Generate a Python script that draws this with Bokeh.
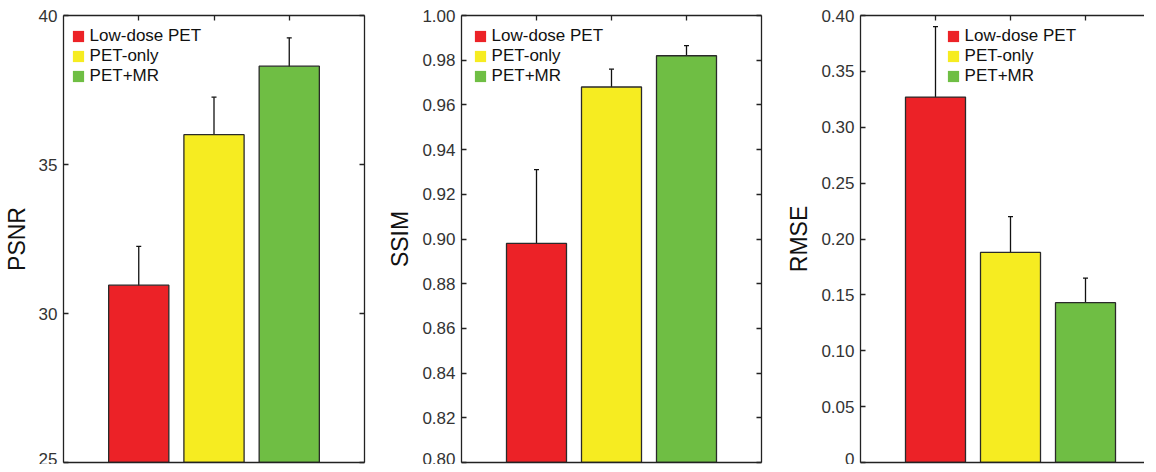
from bokeh.plotting import figure
from bokeh.layouts import row
from bokeh.models import (ColumnDataSource, Range1d, LinearAxis, FixedTicker, Whisker,
                          TeeHead, Legend, LegendItem)
from bokeh.embed import file_html
from bokeh.resources import INLINE

# ---------------- data ----------------
methods = ["Low-dose PET", "PET-only", "PET+MR"]
positions = [1, 2, 3]
colors = ["#EC2227", "#F6EC21", "#6FBE44"]

psnr_mean = [30.95, 36.0, 38.3]
psnr_err = [1.3, 1.26, 0.95]
psnr_ticks = [25, 30, 35, 40]
psnr_tick_labels = ["25", "30", "35", "40"]

ssim_mean = [0.898, 0.968, 0.982]
ssim_err = [0.033, 0.008, 0.0045]
ssim_ticks = [0.80, 0.82, 0.84, 0.86, 0.88, 0.90, 0.92, 0.94, 0.96, 0.98, 1.00]
ssim_tick_labels = ["0.80", "0.82", "0.84", "0.86", "0.88", "0.90", "0.92", "0.94", "0.96", "0.98", "1.00"]

rmse_mean = [0.327, 0.188, 0.143]
rmse_err = [0.063, 0.032, 0.022]
rmse_ticks = [0.0, 0.05, 0.10, 0.15, 0.20, 0.25, 0.30, 0.35, 0.40]
rmse_tick_labels = ["0", "0.05", "0.10", "0.15", "0.20", "0.25", "0.30", "0.35", "0.40"]

FONT = "Liberation Sans"
AXC = "#222222"


def make_panel(title, means, errs, yr, ticks, tick_labels, xend, bl, br, fw, legend_x, right_axis=True):
    p = figure(frame_width=fw, frame_height=447, min_border_left=bl, min_border_right=br,
               min_border_top=15, min_border_bottom=2,
               x_range=Range1d(0, xend), y_range=Range1d(*yr),
               output_backend="svg", toolbar_location=None, x_axis_location=None,
               y_axis_location=None)
    p.outline_line_color = None
    p.grid.visible = False
    p.background_fill_color = "white"

    src = ColumnDataSource(dict(x=positions, top=means, color=colors,
                                upper=[m + e for m, e in zip(means, errs)],
                                lower=[m - e for m, e in zip(means, errs)]))
    bars = p.vbar(x="x", top="top", bottom=yr[0], width=0.8, fill_color="color",
                  line_color=None, source=src)
    p.vbar(x="x", top="top", bottom=yr[0], width=0.8, fill_color=None,
           line_color="#2a2a2a", line_width=1.3, source=src)
    w = Whisker(base="x", upper="upper", lower="lower", source=src,
                line_color="#111111", line_width=1.3,
                upper_head=TeeHead(size=5, line_color="#111111", line_width=1.3),
                lower_head=TeeHead(size=5, line_color="#111111", line_width=1.3))
    p.add_layout(w)

    overrides = {t: l for t, l in zip(ticks, tick_labels)}
    left = LinearAxis(ticker=FixedTicker(ticks=ticks), major_label_overrides=overrides,
                      axis_label=title)
    right = LinearAxis(ticker=FixedTicker(ticks=ticks), major_label_text_font_size="0px")
    top = LinearAxis(ticker=FixedTicker(ticks=positions), major_label_text_font_size="0px")
    bottom = LinearAxis(ticker=FixedTicker(ticks=[]), major_label_text_font_size="0px")
    axes = [left, top, bottom] + ([right] if right_axis else [])
    for a in axes:
        a.axis_line_color = AXC
        a.axis_line_width = 1.3
        a.major_tick_line_color = AXC
        a.major_tick_line_width = 1.3
        a.major_tick_in = 5
        a.major_tick_out = 0
        a.minor_tick_line_color = None
        a.major_label_text_font = FONT
        a.major_label_text_color = "#333333"
    left.major_label_text_font_size = "17px"
    left.major_label_standoff = 6
    left.axis_label_text_font = FONT
    left.axis_label_text_font_size = "23px"
    left.axis_label_text_font_style = "normal"
    left.axis_label_text_color = "#111111"
    left.axis_label_standoff = 6
    p.add_layout(left, "left")
    p.add_layout(top, "above")
    p.add_layout(bottom, "below")
    if right_axis:
        p.add_layout(right, "right")

    items = [LegendItem(label=m, renderers=[bars], index=i) for i, m in enumerate(methods)]
    leg = Legend(items=items, location=(legend_x, 447 - 10.5 - 60), padding=0, spacing=0,
                 margin=0, glyph_width=14, glyph_height=14, label_height=20,
                 label_standoff=5, label_text_font=FONT, label_text_font_size="17px",
                 label_text_color="#111111", background_fill_color="white",
                 background_fill_alpha=1.0, border_line_color=None)
    p.add_layout(leg, "center")
    return p


p1 = make_panel("PSNR", psnr_mean, psnr_err, (25, 40), psnr_ticks, psnr_tick_labels,
                4.0, 59, 19, 301, 7.6)
p2 = make_panel("SSIM", ssim_mean, ssim_err, (0.80, 1.00), ssim_ticks, ssim_tick_labels,
                4.0, 78, 21, 300, 11.6)
p3 = make_panel("RMSE", rmse_mean, rmse_err, (0.0, 0.40), rmse_ticks, rmse_tick_labels,
                284 / 75.0, 78, 0, 284, 85.6, right_axis=False)

layout = row(p1, p2, p3)
open("out.html", "w").write(file_html(layout, INLINE))
